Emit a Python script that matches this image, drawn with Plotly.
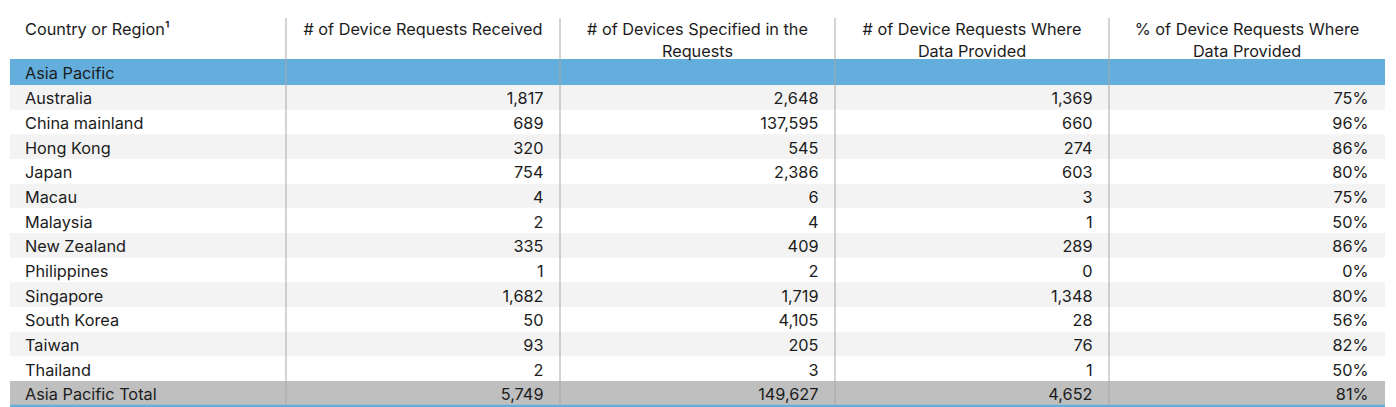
import plotly.graph_objects as go

# Table data
group_name = "Asia Pacific"
countries = ["Australia", "China mainland", "Hong Kong", "Japan", "Macau", "Malaysia",
             "New Zealand", "Philippines", "Singapore", "South Korea", "Taiwan", "Thailand"]
requests_received = [1817, 689, 320, 754, 4, 2, 335, 1, 1682, 50, 93, 2]
devices_specified = [2648, 137595, 545, 2386, 6, 4, 409, 2, 1719, 4105, 205, 3]
requests_provided = [1369, 660, 274, 603, 3, 1, 289, 0, 1348, 28, 76, 1]
pct_provided = [75, 96, 86, 80, 75, 50, 86, 0, 80, 56, 82, 50]
total_label = "Asia Pacific Total"
totals = [5749, 149627, 4652, 81]
headers = ["Country or Region\u00b9",
           "# of Device Requests Received",
           "# of Devices Specified in the<br>Requests",
           "# of Device Requests Where<br>Data Provided",
           "% of Device Requests Where<br>Data Provided"]

# Layout geometry (pixels of the page; the page body adds an 8px offset)
W, H = 1396, 407
OFF = 8
col_edges = [10, 286, 560, 835, 1109, 1385]
group_top, group_bot = 59, 85
row_h = (381 - 85) / 12
left_x = 25      # left edge of the first-column text
right_pad = 16.5 # gap between numbers and column line
text_dy = 3      # text sits slightly below the row centre
BLUE = "#63aedd"
STRIPE = "#f3f3f3"
TOTAL = "#bfbfbf"
GRID = "#a8a8a8"
FONT = "Inter, Roboto, sans-serif"
TXT = "#1c1c1c"

fig = go.Figure()

# Row centres from row index
n = len(countries)
row_top = [group_bot + i * row_h for i in range(n)]
row_mid = [t + row_h / 2 + text_dy for t in row_top]
total_top = group_bot + n * row_h
total_bot = 405
total_mid = (total_top + total_bot) / 2 + text_dy

# Backgrounds
fig.add_shape(type="rect", x0=col_edges[0], x1=col_edges[-1], y0=group_top, y1=group_bot,
              fillcolor=BLUE, line_width=0, layer="below")
for i, t in enumerate(row_top):
    if i % 2 == 0:
        fig.add_shape(type="rect", x0=col_edges[0], x1=col_edges[-1], y0=t, y1=t + row_h,
                      fillcolor=STRIPE, line_width=0, layer="below")
fig.add_shape(type="rect", x0=col_edges[0], x1=col_edges[-1], y0=total_top, y1=total_bot,
              fillcolor=TOTAL, line_width=0, layer="below")
fig.add_shape(type="line", x0=col_edges[0], x1=col_edges[-1], y0=406, y1=406,
              line=dict(color=BLUE, width=2.5))

# Column separators
for xe in col_edges[1:-1]:
    fig.add_shape(type="line", x0=xe, x1=xe, y0=18, y1=total_bot,
                  line=dict(color=GRID, width=1))

font = dict(family=FONT, size=16.3, color=TXT)

# Header
fig.add_trace(go.Scatter(x=[left_x], y=[31], mode="text", text=[headers[0]],
                         textposition="middle right", textfont=font, hoverinfo="skip"))
fig.add_trace(go.Scatter(
    x=[(col_edges[i] + col_edges[i + 1]) / 2 for i in range(1, 5)],
    y=[31, 42, 42, 42], mode="text", text=headers[1:],
    textposition="middle center", textfont=font, hoverinfo="skip"))

# Group row
fig.add_trace(go.Scatter(x=[left_x], y=[(group_top + group_bot) / 2 + text_dy],
                         mode="text", text=[group_name], textposition="middle right",
                         textfont=font, hoverinfo="skip"))

# Country names
fig.add_trace(go.Scatter(x=[left_x] * (n + 1), y=row_mid + [total_mid],
                         mode="text", text=countries + [total_label],
                         textposition="middle right", textfont=font, hoverinfo="skip"))

# Numeric columns
cols = [
    [f"{v:,}" for v in requests_received] + [f"{totals[0]:,}"],
    [f"{v:,}" for v in devices_specified] + [f"{totals[1]:,}"],
    [f"{v:,}" for v in requests_provided] + [f"{totals[2]:,}"],
    [f"{v}%" for v in pct_provided] + [f"{totals[3]}%"],
]
for j, vals in enumerate(cols):
    fig.add_trace(go.Scatter(x=[col_edges[j + 2] - right_pad] * (n + 1),
                             y=row_mid + [total_mid],
                             mode="text", text=vals, textposition="middle left",
                             textfont=font, hoverinfo="skip"))

fig.update_layout(
    width=W, height=H, margin=dict(l=0, r=0, t=0, b=0),
    plot_bgcolor="white", paper_bgcolor="white", showlegend=False,
    xaxis=dict(range=[OFF, W + OFF], visible=False, fixedrange=True),
    yaxis=dict(range=[H + OFF, OFF], visible=False, fixedrange=True),
)

fig.write_html("out.html")
